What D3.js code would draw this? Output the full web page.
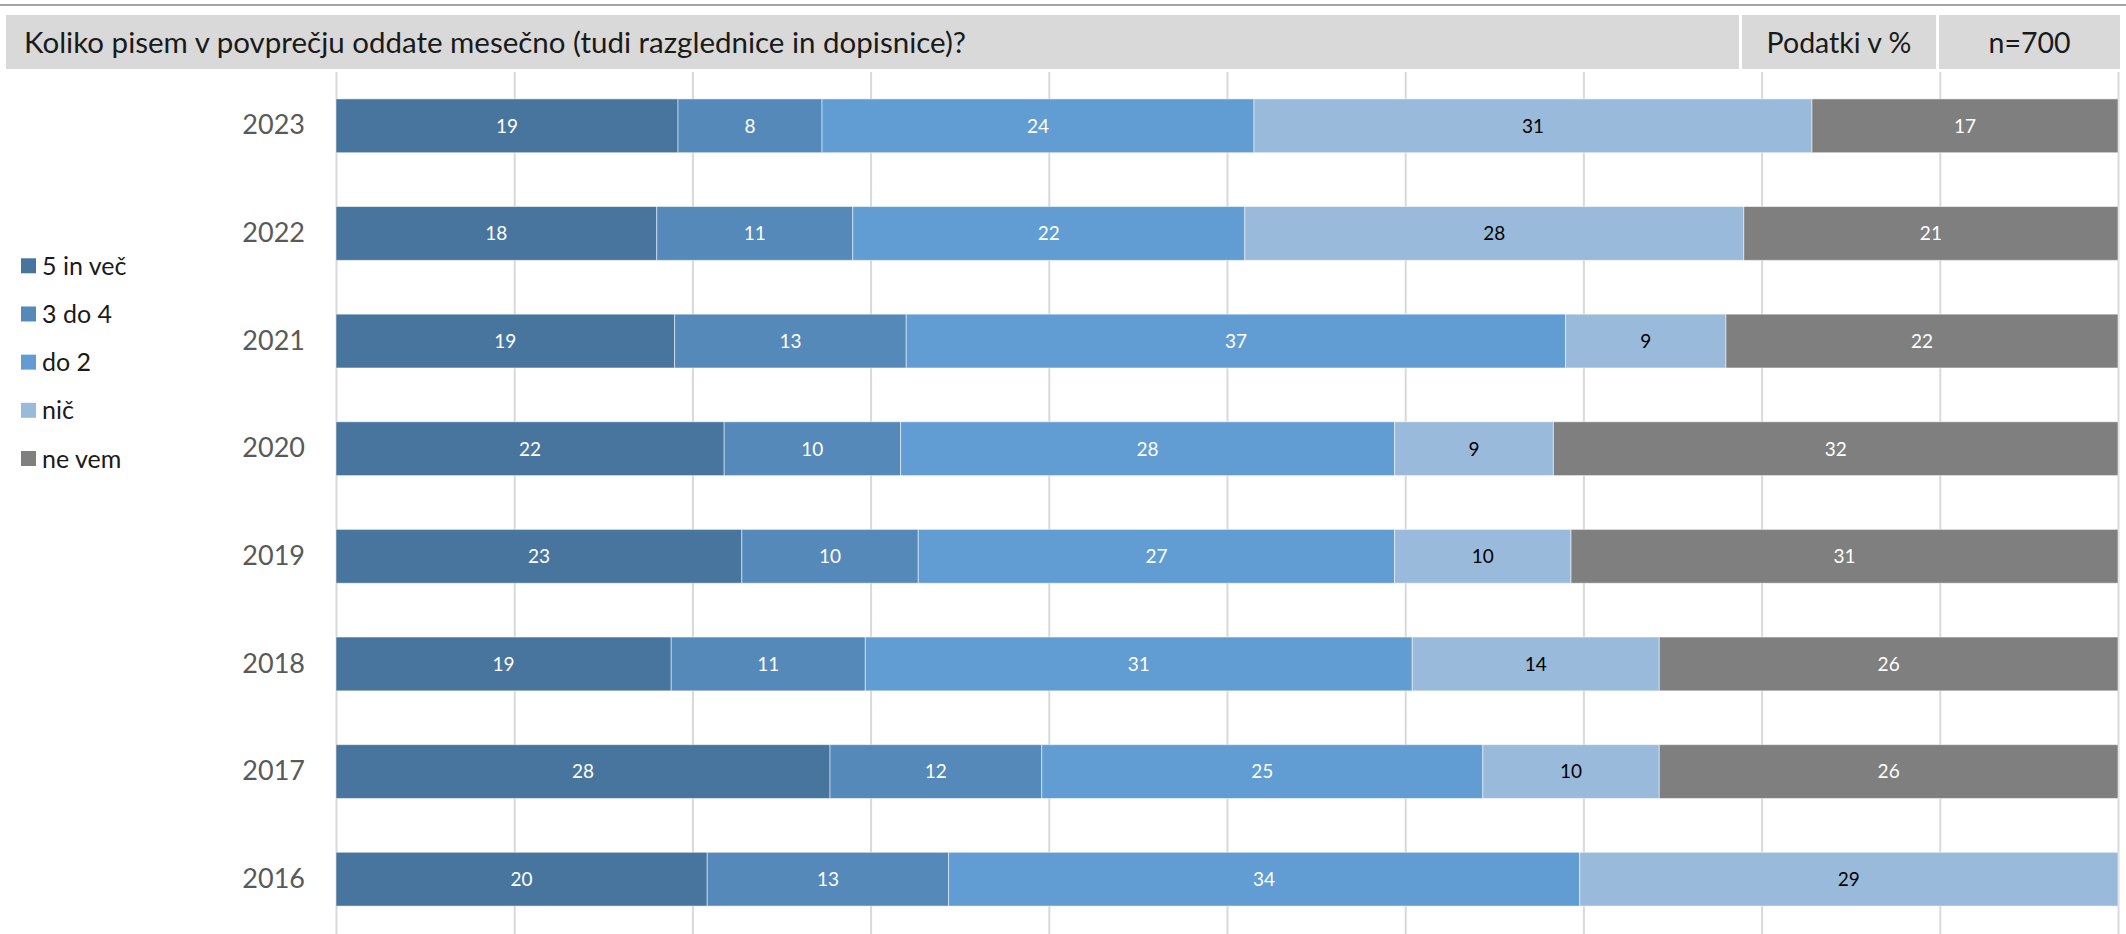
<!DOCTYPE html>
<html>
<head>
<meta charset="utf-8">
<script src="https://cdn.jsdelivr.net/npm/d3@7"></script>
<style>
  html, body { margin: 0; padding: 0; background: #fff; }
  svg { display: block; font-family: Lato, "Open Sans", sans-serif; }
</style>
</head>
<body>
<div id="chart"></div>
<script>
// Data (percent, 100% stacked per year)
const years = ["2023", "2022", "2021", "2020", "2019", "2018", "2017", "2016"];
const categories = ["5 in več", "3 do 4", "do 2", "nič", "ne vem"];
const colors = ["#48759e", "#5589ba", "#619dd2", "#9abadc", "#7f7f7f"];
const labelColors = ["#fff", "#fff", "#fff", "#000", "#fff"];

const fiveOrMore = [19, 18, 19, 22, 23, 19, 28, 20];
const threeToFour = [8, 11, 13, 10, 10, 11, 12, 13];
const upToTwo = [24, 22, 37, 28, 27, 31, 25, 34];
const none = [31, 28, 9, 9, 10, 14, 10, 29];
const dontKnow = [17, 21, 22, 32, 31, 26, 26, 0];

const title = "Koliko pisem v povprečju oddate mesečno (tudi razglednice in dopisnice)?";
const unitLabel = "Podatki v %";
const sampleLabel = "n=700";

const W = 2126, H = 934;

const rows = years.map((y, i) => ({
	year: y,
	"5 in več": fiveOrMore[i],
	"3 do 4": threeToFour[i],
	"do 2": upToTwo[i],
	"nič": none[i],
	"ne vem": dontKnow[i],
}));

const svg = d3.select("#chart").append("svg")
	.attr("width", W)
	.attr("height", H)
	.attr("viewBox", `0 0 ${W} ${H}`);

// Header
svg.append("rect").attr("x", 0).attr("y", 4).attr("width", W).attr("height", 2).attr("fill", "#a5a5a5");
const headerBoxes = [
	{x0: 6, x1: 1739, text: title, anchor: "start", size: 29.5},
	{x0: 1742, x1: 1936, text: unitLabel, anchor: "middle", size: 28.5},
	{x0: 1939, x1: 2120, text: sampleLabel, anchor: "middle", size: 28.5},
];
const hdr = svg.append("g");
hdr.selectAll("rect")
	.data(headerBoxes)
	.join("rect")
	.attr("x", d => d.x0)
	.attr("y", 15)
	.attr("width", d => d.x1 - d.x0)
	.attr("height", 54)
	.attr("fill", "#d9d9d9");
hdr.selectAll("text")
	.data(headerBoxes)
	.join("text")
	.attr("x", d => d.anchor === "start" ? 24 : (d.x0 + d.x1) / 2)
	.attr("y", 53)
	.attr("text-anchor", d => d.anchor)
	.attr("fill", "#1a1a1a")
	.attr("font-size", d => d.size + "px")
	.text(d => d.text);

// Scales
const x = d3.scaleLinear().domain([0, 1]).range([336, 2118]);
const y = d3.scaleBand().domain(years).range([72, 933]).paddingInner(0.5).paddingOuter(0.25);

// Gridlines
svg.append("g")
	.attr("transform", "translate(0,72)")
	.call(d3.axisTop(x).ticks(10).tickSize(-(H - 72)).tickFormat(""))
	.call(g => g.select(".domain").remove())
	.call(g => g.selectAll("line").attr("stroke", "#d9d9d9").attr("stroke-width", 2));

// Stacked bars (100% normalised, as in the source)
const stack = d3.stack().keys(categories).offset(d3.stackOffsetExpand);
const series = stack(rows);

const layers = svg.append("g").selectAll("g")
	.data(series)
	.join("g")
	.attr("fill", (d, i) => colors[i]);

layers.selectAll("rect")
	.data(d => d)
	.join("rect")
	.attr("x", d => x(d[0]))
	.attr("y", d => y(d.data.year))
	.attr("width", d => Math.max(0, x(d[1]) - x(d[0])))
	.attr("height", y.bandwidth())
	.attr("stroke", "#fff")
	.attr("stroke-opacity", 0.5)
	.attr("stroke-width", 1);

// Value labels
layers.each(function (s, i) {
	d3.select(this).selectAll("text")
		.data(s.filter(d => d.data[s.key] > 0))
		.join("text")
		.attr("x", d => (x(d[0]) + x(d[1])) / 2)
		.attr("y", d => y(d.data.year) + y.bandwidth() / 2)
		.attr("dy", "0.36em")
		.attr("text-anchor", "middle")
		.attr("fill", labelColors[i])
		.attr("font-size", "19px")
		.text(d => d.data[s.key]);
});

// Year axis
svg.append("g")
	.attr("transform", "translate(336,0)")
	.call(d3.axisLeft(y).tickSize(0).tickPadding(31))
	.call(g => g.select(".domain").remove())
	.call(g => g.selectAll("text")
		.attr("fill", "#595959")
		.attr("font-size", "27px")
		.attr("font-family", "Lato, 'Open Sans', sans-serif"));

// Legend
const legendY = d3.scalePoint().domain(categories).range([265.8, 458.5]);
const legend = svg.append("g").selectAll("g")
	.data(categories)
	.join("g")
	.attr("transform", d => `translate(21,${legendY(d)})`);
legend.append("rect")
	.attr("x", 0)
	.attr("y", -7.5)
	.attr("width", 15)
	.attr("height", 15)
	.attr("fill", (d, i) => colors[i]);
legend.append("text")
	.attr("x", 21)
	.attr("dy", "0.36em")
	.attr("fill", "#1a1a1a")
	.attr("font-size", "25px")
	.text(d => d);
</script>
</body>
</html>
